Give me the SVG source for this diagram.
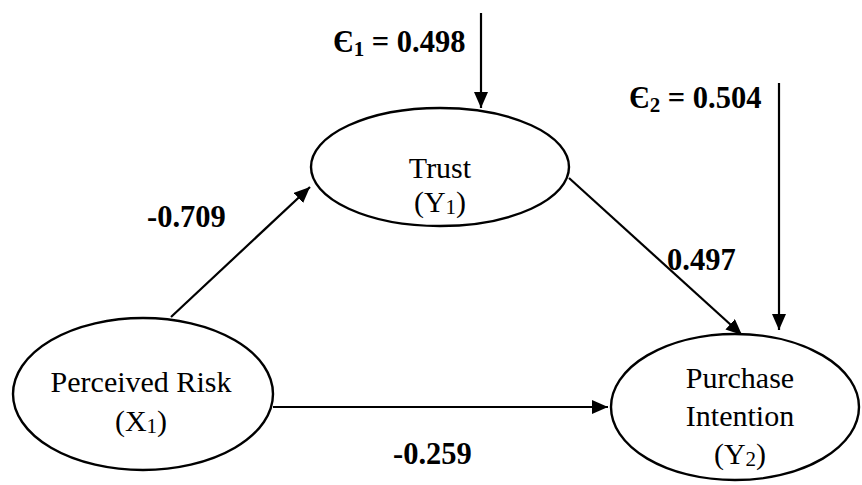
<svg xmlns="http://www.w3.org/2000/svg" width="862" height="485" viewBox="0 0 862 485">
<defs>
<marker id="ah" markerUnits="userSpaceOnUse" markerWidth="16" markerHeight="15" refX="16" refY="7" orient="auto">
<path d="M0,0 L16,7 L0,14 z" fill="#000"/>
</marker>
<style>
.n{fill:#fff;stroke:#000;stroke-width:2.4}
.t{font-size:30px;fill:#000;text-anchor:middle}
.b{font-size:30.5px;font-weight:bold;fill:#000}
.c{stroke:#000;stroke-width:2.2;fill:none;marker-end:url(#ah)}
</style>
</defs>
<rect width="862" height="485" fill="#fff"/>
<g id="connectors">
<line class="c" x1="171" y1="317" x2="310" y2="187"/>
<line class="c" x1="569" y1="178" x2="742" y2="335"/>
<line class="c" x1="273" y1="407" x2="608" y2="407"/>
<line class="c" x1="481" y1="13" x2="481" y2="108"/>
<line class="c" x1="779" y1="83" x2="779" y2="330"/>
</g>
<g font-family="'Liberation Serif', 'DejaVu Serif', 'Times New Roman', serif">
<g id="trust">
<ellipse class="n" cx="440" cy="167" rx="129" ry="59"/>
<text class="t" x="440" y="178">Trust</text>
<text class="t" x="440" y="212">(Y<tspan font-size="21" dy="2">1</tspan><tspan dy="-2">)</tspan></text>
</g>
<g id="perceived-risk">
<ellipse class="n" cx="143" cy="394" rx="130" ry="76"/>
<text class="t" x="141" y="392">Perceived Risk</text>
<text class="t" x="141" y="431">(X<tspan font-size="21" dy="2">1</tspan><tspan dy="-2">)</tspan></text>
</g>
<g id="purchase-intention">
<ellipse class="n" cx="735" cy="407" rx="124" ry="73"/>
<text class="t" x="740" y="388">Purchase</text>
<text class="t" x="740" y="426">Intention</text>
<text class="t" x="740" y="464">(Y<tspan font-size="21" dy="2">2</tspan><tspan dy="-2">)</tspan></text>
</g>
<g id="labels">
<text class="b" x="333" y="52">Є<tspan font-size="21" dy="4">1</tspan><tspan dy="-4"> = 0.498</tspan></text>
<text class="b" x="629" y="108">Є<tspan font-size="21" dy="4">2</tspan><tspan dy="-4"> = 0.504</tspan></text>
<text class="b" x="147" y="227">-0.709</text>
<text class="b" x="667" y="270">0.497</text>
<text class="b" x="393" y="464">-0.259</text>
</g>
</g>
</svg>
